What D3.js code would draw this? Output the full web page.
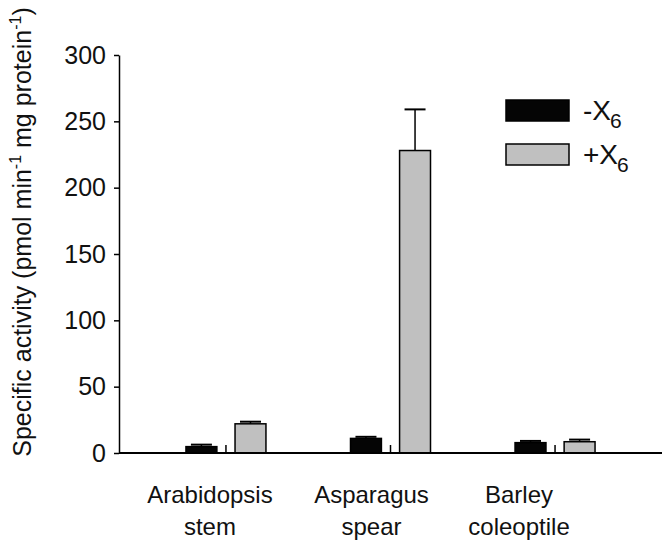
<!DOCTYPE html>
<html>
<head>
<meta charset="utf-8">
<script src="https://cdn.jsdelivr.net/npm/d3@7"></script>
<style>
  body { margin: 0; background: #fff; }
  svg text { font-family: Arial, "Liberation Sans", sans-serif; fill: #111; }
</style>
</head>
<body>
<div id="chart"></div>
<script>
// data
const categories = ["Arabidopsis stem", "Asparagus spear", "Barley coleoptile"];
const labelLines = [["Arabidopsis", "stem"], ["Asparagus", "spear"], ["Barley", "coleoptile"]];
const series = ["-X6", "+X6"];
const minusX6 = [4.8, 11, 7.8];
const minusX6Err = [1.5, 1.2, 1.3];
const plusX6 = [22, 228, 8.5];
const plusX6Err = [1.6, 31, 1.6];
const yTicks = [0, 50, 100, 150, 200, 250, 300];

const W = 666, H = 543;
const plot = { left: 119, right: 662, top: 55, bottom: 453 };

const svg = d3.select("#chart")
    .append("svg")
    .attr("width", W)
    .attr("height", H);

const x = d3.scalePoint()
    .domain(categories)
    .range([plot.left, plot.right])
    .padding(0.65);

const xSub = d3.scaleBand()
    .domain(series)
    .range([-40, 40])
    .paddingInner(0.37);

const y = d3.scaleLinear()
    .domain([0, 300])
    .range([plot.bottom, plot.top]);

const fills = { "-X6": "#050505", "+X6": "#c0c0c0" };

const rows = categories.map((c, i) => [
    { cat: c, s: "-X6", v: minusX6[i], e: minusX6Err[i] },
    { cat: c, s: "+X6", v: plusX6[i], e: plusX6Err[i] }
]).flat();

// error bars (upper only)
const capW = 21;
svg.selectAll(".err")
    .data(rows)
    .join("g")
    .attr("class", "err")
    .each(function (d) {
        const cx = x(d.cat) + xSub(d.s) + xSub.bandwidth() / 2;
        const g = d3.select(this);
        g.append("line")
            .attr("x1", cx).attr("x2", cx)
            .attr("y1", y(d.v)).attr("y2", y(d.v + d.e))
            .attr("stroke", "#000").attr("stroke-width", 1.5);
        g.append("line")
            .attr("x1", cx - capW / 2).attr("x2", cx + capW / 2)
            .attr("y1", y(d.v + d.e)).attr("y2", y(d.v + d.e))
            .attr("stroke", "#000").attr("stroke-width", 2);
    });

// bars
svg.selectAll(".bar")
    .data(rows)
    .join("rect")
    .attr("class", "bar")
    .attr("x", d => x(d.cat) + xSub(d.s))
    .attr("width", xSub.bandwidth())
    .attr("y", d => y(d.v))
    .attr("height", d => y(0) - y(d.v))
    .attr("fill", d => fills[d.s])
    .attr("stroke", "#000")
    .attr("stroke-width", 1.5);

// y axis
svg.append("g")
    .attr("transform", `translate(${plot.left},0)`)
    .call(d3.axisLeft(y).tickValues(yTicks).tickSize(5).tickSizeOuter(0).tickPadding(8))
    .call(g => g.select(".domain").attr("stroke-width", 1.5))
    .call(g => g.selectAll(".tick line").attr("stroke-width", 1.5))
    .call(g => g.selectAll(".tick text").style("font-size", "25px").attr("fill", "#111"));

// x axis line with small ticks between bar pairs
svg.append("line")
    .attr("x1", plot.left).attr("x2", plot.right)
    .attr("y1", y(0)).attr("y2", y(0))
    .attr("stroke", "#000").attr("stroke-width", 1.8);

svg.selectAll(".xtick")
    .data(categories)
    .join("line")
    .attr("x1", d => x(d)).attr("x2", d => x(d))
    .attr("y1", y(0)).attr("y2", y(0) - 8)
    .attr("stroke", "#000").attr("stroke-width", 1.5);

// category labels (slightly left of the group centre, as in the figure)
const labelNudge = [-16, -19, -36];
const xl = svg.selectAll(".xlabel")
    .data(categories)
    .join("text")
    .attr("class", "xlabel")
    .attr("text-anchor", "middle")
    .style("font-size", "24px");
xl.each(function (d, i) {
    const t = d3.select(this);
    labelLines[i].forEach((ln, j) => {
        t.append("tspan")
            .attr("x", x(d) + labelNudge[i])
            .attr("y", 503 + j * 32)
            .text(ln);
    });
});

// y axis title
const yt = svg.append("text")
    .attr("transform", `translate(31, 232) rotate(-90)`)
    .attr("text-anchor", "middle")
    .style("font-size", "25px");
yt.append("tspan").text("Specific activity (pmol min");
yt.append("tspan").attr("dy", -10).style("font-size", "16px").text("-1");
yt.append("tspan").attr("dy", 10).text(" mg protein");
yt.append("tspan").attr("dy", -10).style("font-size", "16px").text("-1");
yt.append("tspan").attr("dy", 10).text(")");

// legend
const legend = svg.selectAll(".legend")
    .data(series)
    .join("g")
    .attr("class", "legend")
    .attr("transform", (d, i) => `translate(506, ${100 + i * 44})`);

legend.append("rect")
    .attr("width", 63)
    .attr("height", 21)
    .attr("fill", d => fills[d])
    .attr("stroke", "#000")
    .attr("stroke-width", 1.5);

legend.append("text")
    .attr("x", 77)
    .attr("y", 20)
    .style("font-size", "28px")
    .each(function (d) {
        const t = d3.select(this);
        t.append("tspan").text(d.slice(0, 2));
        t.append("tspan").attr("dx", -1).attr("dy", 8).style("font-size", "21px").text(d.slice(2));
    });
</script>
</body>
</html>
